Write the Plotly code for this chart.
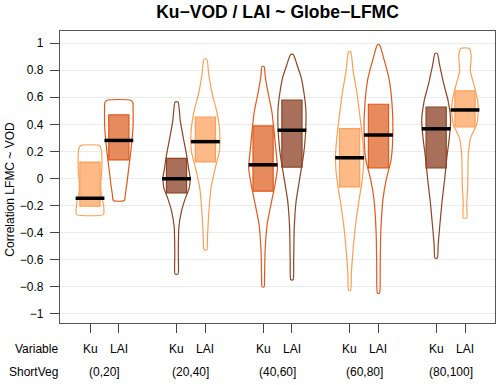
import plotly.graph_objects as go

# data
groups = ['(0,20]', '(20,40]', '(40,60]', '(60,80]', '(80,100]']
variables = ['Ku', 'LAI']

means = [-0.146, 0.281, -0.002, 0.272, 0.101, 0.356, 0.153, 0.321, 0.367, 0.506]
box_lo = [-0.205, 0.137, -0.106, 0.123, -0.094, 0.084, -0.062, 0.079, 0.079, 0.380]
box_hi = [0.121, 0.469, 0.148, 0.454, 0.388, 0.578, 0.368, 0.548, 0.528, 0.647]

# violin outlines: y levels and relative half-width (density) at each level
bean_y = [
    [-0.267, -0.24, -0.17, -0.1, -0.04, 0.05, 0.15, 0.21, 0.24, 0.247],
    [-0.163, -0.118, -0.044, 0.08, 0.2, 0.378, 0.5, 0.56, 0.578],
    [-0.706, -0.56, -0.36, -0.242, -0.143, -0.069, 0.005, 0.079, 0.178, 0.30, 0.425, 0.565],
    [-0.526, -0.44, -0.267, -0.069, 0.079, 0.20, 0.35, 0.5, 0.622, 0.77, 0.881],
    [-0.80, -0.73, -0.538, -0.34, -0.19, -0.044, 0.079, 0.20, 0.375, 0.5, 0.598, 0.746, 0.827],
    [-0.748, -0.613, -0.366, -0.168, 0.005, 0.178, 0.326, 0.5, 0.622, 0.746, 0.844, 0.914],
    [-0.826, -0.696, -0.501, -0.326, -0.156, -0.007, 0.141, 0.289, 0.462, 0.635, 0.783, 0.936],
    [-0.847, -0.65, -0.402, -0.156, -0.007, 0.141, 0.338, 0.536, 0.733, 0.881, 0.988],
    [-0.588, -0.489, -0.34, -0.168, 0.005, 0.153, 0.30, 0.425, 0.573, 0.696, 0.844, 0.924],
    [-0.291, -0.19, -0.044, 0.178, 0.30, 0.40, 0.5, 0.573, 0.696, 0.795, 0.894, 0.94, 0.961],
]
bean_w = [
    [0.93, 0.97, 0.9, 0.76, 0.74, 0.81, 0.83, 0.79, 0.69, 0.55],
    [0.38, 0.45, 0.55, 0.69, 0.83, 0.98, 0.99, 0.97, 0.83],
    [0.1, 0.12, 0.16, 0.34, 0.62, 0.88, 0.94, 0.83, 0.69, 0.47, 0.26, 0.1],
    [0.1, 0.14, 0.23, 0.39, 0.69, 0.97, 0.99, 0.78, 0.48, 0.23, 0.1],
    [0.07, 0.1, 0.14, 0.28, 0.55, 0.83, 1.0, 0.9, 0.74, 0.6, 0.41, 0.16, 0.07],
    [0.08, 0.12, 0.16, 0.29, 0.55, 0.81, 0.94, 0.97, 0.85, 0.64, 0.34, 0.1],
    [0.07, 0.12, 0.26, 0.43, 0.66, 0.88, 0.98, 0.9, 0.71, 0.5, 0.26, 0.07],
    [0.07, 0.12, 0.16, 0.31, 0.54, 0.88, 1.0, 0.95, 0.74, 0.38, 0.07],
    [0.08, 0.14, 0.26, 0.41, 0.6, 0.74, 0.91, 1.0, 0.83, 0.53, 0.23, 0.08],
    [0.12, 0.12, 0.19, 0.23, 0.39, 0.81, 0.92, 0.88, 0.61, 0.37, 0.43, 0.38, 0.28],
]

line_cols = ['#FD9F55', '#E2581A', '#8E4424']
fill_cols = ['#FDBA86', '#E68B5D', '#A8705A']

FONT = 'Liberation Sans, Arial, sans-serif'
HALF = 0.5      # max half-width of a bean (x units)
BOXW = 0.70

pos = [3 * g + v + 1 for g in range(len(groups)) for v in range(len(variables))]

fig = go.Figure()

for i, p in enumerate(pos):
    ys = bean_y[i]
    ws = bean_w[i]
    xr = [p + w * HALF for w in ws]
    xl = [p - w * HALF for w in ws][::-1]
    fig.add_trace(go.Scatter(
        x=xr + xl + [xr[0]], y=ys + ys[::-1] + [ys[0]],
        mode='lines', fill='toself', fillcolor='rgba(255,255,255,0)',
        line=dict(color=line_cols[i % 3], width=1.2, shape='spline', smoothing=0.6),
        hoverinfo='skip', showlegend=False,
    ))

fig.add_trace(go.Bar(
    x=pos, y=[h - l for h, l in zip(box_hi, box_lo)], base=box_lo, width=BOXW,
    marker=dict(color=[fill_cols[i % 3] for i in range(len(pos))],
                line=dict(color=[line_cols[i % 3] for i in range(len(pos))], width=1.2)),
    showlegend=False,
))

mx, my = [], []
for p, m in zip(pos, means):
    mx += [p - HALF, p + HALF, None]
    my += [m, m, None]
fig.add_trace(go.Scatter(x=mx, y=my, mode='lines', line=dict(color='black', width=3.5),
                         showlegend=False, hoverinfo='skip'))

yt = [round(-1 + 0.2 * k, 1) for k in range(11)]
ytext = [('%g' % v).replace('-', '\u2212') for v in yt]

fig.update_layout(
    width=500, height=385,
    margin=dict(l=60, r=5, t=31, b=62),
    plot_bgcolor='white', paper_bgcolor='white',
    font=dict(family=FONT, size=12, color='black'),
    barmode='overlay',
    title=dict(text='<b>Ku\u2212VOD / LAI ~ Globe\u2212LFMC</b>', x=0.5, xref='paper',
               xanchor='center', y=0.968, yanchor='middle', yref='container',
               font=dict(size=17.5)),
)
fig.update_xaxes(
    range=[-0.04, 15.04], showgrid=False, zeroline=False,
    tickvals=pos, showticklabels=False, ticks='outside', ticklen=9, tickcolor='#444',
    showline=True, mirror=True, linecolor='#555', linewidth=1.2,
)
fig.update_yaxes(
    range=[-1.067, 1.089], tickvals=yt, ticktext=ytext, zeroline=False,
    gridcolor='#EBEBEB', gridwidth=1, ticks='outside', ticklen=9, tickcolor='#444',
    showline=True, mirror=True, linecolor='#555', linewidth=1.2,
    ticklabelstandoff=4, tickfont=dict(size=12),
)

ann = [
    dict(text='Variable', x=0, xref='paper', xanchor='right', y=-0.089),
    dict(text='ShortVeg', x=0, xref='paper', xanchor='right', y=-0.168),
]
for i, p in enumerate(pos):
    ann.append(dict(text=variables[i % 2], x=p, xref='x', xanchor='center', y=-0.089))
for g, name in enumerate(groups):
    ann.append(dict(text=name, x=3 * g + 1.5, xref='x', xanchor='center', y=-0.168))
for a in ann:
    a.update(yref='paper', yanchor='middle', showarrow=False, font=dict(size=12))
    fig.add_annotation(**a)

fig.add_annotation(text='Correlation LFMC ~ VOD', textangle=-90, x=-0.115, xref='paper',
                   xanchor='center', y=0.46, yref='paper', yanchor='middle',
                   showarrow=False, font=dict(size=12))

fig.write_html('out.html', config={'displayModeBar': False},
               post_script="document.body.style.margin='0px';")
